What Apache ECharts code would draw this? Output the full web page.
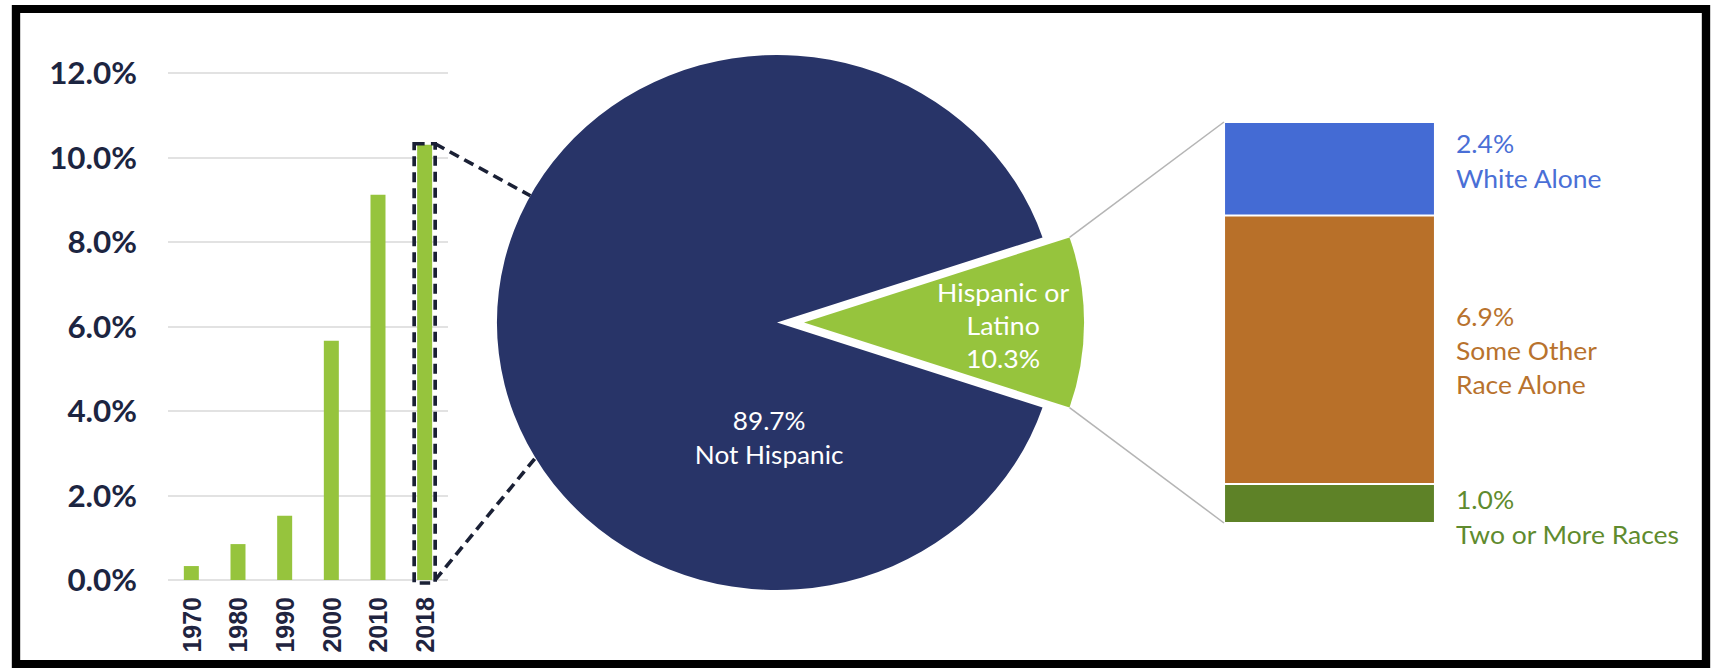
<!DOCTYPE html>
<html><head><meta charset="utf-8">
<script src="https://cdn.jsdelivr.net/npm/echarts@6/dist/echarts.min.js"></script>
<style>
html,body{margin:0;padding:0;background:#fff;overflow:hidden;width:1718px;height:668px}
#c{height:668px;transform-origin:0 0}
</style>
</head><body><div id="c"></div>
<script>
// ---- data ----
const years = ['1970', '1980', '1990', '2000', '2010', '2018'];
const hispanicShare = [0.33, 0.85, 1.52, 5.66, 9.12, 10.3];
const yAxisMax = 12;
const yAxisStep = 2;
const pieNames = ['Hispanic or Latino', 'Not Hispanic'];
const pieLabelLines = [['Hispanic or', 'Latino'], ['Not Hispanic']];
const pieValues = [10.3, 89.7];
const raceCategory = ['Hispanic or Latino'];
const raceNames = ['Two or More Races', 'Some Other Race Alone', 'White Alone'];
const raceLabelLines = [['Two or More Races'], ['Some Other', 'Race Alone'], ['White Alone']];
const raceValues = [1.0, 6.9, 2.4];

// ---- layout / styles (the source picture is stretched horizontally) ----
const S = 1.047;                       // horizontal stretch of the original graphic
const X = v => v / S;                  // page x -> chart x
const el = document.getElementById('c');
el.style.width = (1718 / S) + 'px';
el.style.transform = 'scaleX(' + S + ')';

const NAVY = '#283468', GREEN = '#96c43d';
const raceColors = ['#5e8227', '#b87029', '#446bd4'];
const raceTextColors = ['#5f8b2e', '#b8722d', '#4a6fd6'];
const raceOffsets = [[0, 13], [0, 0], [0, -8]];
const raceLineHeights = [35, 34, 35];
const PIE_C = [X(777), 322.5], PIE_R = 267.5, PIE_SHIFT = X(27);
const pieTotal = pieValues.reduce((a, b) => a + b, 0);
const stackTotal = raceValues.reduce((a, b) => a + b, 0);
const fmt = v => v.toFixed(1) + '%';
const BAR2_W = X(211);

const chart = echarts.init(el, null, {renderer: 'svg'});

const raceSeries = raceValues.map((v, i) => ({
  type: 'bar', name: raceNames[i], xAxisIndex: 1, yAxisIndex: 1, stack: 'race', silent: true,
  barWidth: '100%', data: [v],
  itemStyle: {color: raceColors[i], borderColor: '#ffffff', borderWidth: 1},
  label: {
    show: true, position: 'right', distance: X(21), offset: raceOffsets[i],
    formatter: () => [fmt(v)].concat(raceLabelLines[i]).join('\n'),
    color: raceTextColors[i], fontFamily: 'Lato', fontSize: 25.3, lineHeight: raceLineHeights[i], align: 'left'
  }
}));

const pieBase = {
  type: 'pie', radius: PIE_R, startAngle: pieValues[0] / pieTotal * 180, clockwise: true,
  silent: true, emphasis: {disabled: true}, labelLine: {show: false}
};

chart.setOption({
  animation: false,
  grid: [
    {left: X(168), top: 73, width: X(280), height: 507},
    {left: X(1224), top: 122, width: BAR2_W, height: 401}
  ],
  xAxis: [
    {type: 'category', gridIndex: 0, data: years,
     axisLine: {show: false}, axisTick: {show: false},
     axisLabel: {rotate: 90, margin: 17, color: '#1f2440', fontFamily: 'Liberation Sans', fontWeight: 'bold', fontSize: 25}},
    {type: 'category', gridIndex: 1, data: raceCategory, show: false}
  ],
  yAxis: [
    {type: 'value', gridIndex: 0, min: 0, max: yAxisMax, interval: yAxisStep,
     axisLine: {show: false}, axisTick: {show: false},
     splitLine: {lineStyle: {color: '#d9d9d9', width: 1.5}},
     axisLabel: {margin: X(31), color: '#1c2541', fontFamily: 'Lato', fontWeight: 'bold', fontSize: 30,
                 formatter: v => fmt(v)}},
    {type: 'value', gridIndex: 1, min: 0, max: stackTotal, show: false}
  ],
  series: [
    {type: 'bar', xAxisIndex: 0, yAxisIndex: 0, data: hispanicShare, barWidth: X(15), silent: true,
     itemStyle: {color: GREEN}},
    // Not Hispanic (at the pie centre)
    Object.assign({}, pieBase, {
      center: PIE_C,
      data: pieValues.map((v, i) => ({
        name: pieNames[i], value: v,
        itemStyle: {color: i === 1 ? NAVY : 'rgba(0,0,0,0)'},
        label: {show: i === 1}
      })),
      label: {
        position: 'inside', color: '#ffffff', fontFamily: 'Lato', fontSize: 25, lineHeight: 34,
        formatter: p => [fmt(p.value)].concat(pieLabelLines[1]).join('\n')
      },
      labelLayout: () => ({x: PIE_C[0] - 7.5, y: PIE_C[1] + 114.5, align: 'center', verticalAlign: 'middle'})
    }),
    // Hispanic or Latino (pulled out of the pie)
    Object.assign({}, pieBase, {
      center: [PIE_C[0] + PIE_SHIFT, PIE_C[1]],
      data: pieValues.map((v, i) => ({
        name: pieNames[i], value: v,
        itemStyle: {color: i === 0 ? GREEN : 'rgba(0,0,0,0)'},
        label: {show: i === 0}
      })),
      label: {
        position: 'inside', color: '#ffffff', fontFamily: 'Lato', fontSize: 25.5, lineHeight: 33,
        formatter: p => pieLabelLines[0].concat([fmt(p.value)]).join('\n')
      },
      labelLayout: () => ({x: PIE_C[0] + 216, y: PIE_C[1] + 2.5, align: 'center', verticalAlign: 'middle'})
    })
  ].concat(raceSeries)
});

// ---- connectors computed from the rendered scales/layout ----
const last = years.length - 1;
const topPt = chart.convertToPixel({xAxisIndex: 0, yAxisIndex: 0}, [years[last], hispanicShare[last]]);
const basePt = chart.convertToPixel({xAxisIndex: 0, yAxisIndex: 0}, [years[last], 0]);
const half = X(10.5);
const rect = {x: topPt[0] - half, y: topPt[1] - 1, width: half * 2, height: basePt[1] - topPt[1] + 4};

const LA = chart.getModel().getSeriesByIndex(1).getData().getItemLayout(1);
const LB = chart.getModel().getSeriesByIndex(2).getData().getItemLayout(0);
const c1 = [LB.cx + LB.r * Math.cos(LB.startAngle), LB.cy + LB.r * Math.sin(LB.startAngle)];
const c2 = [LB.cx + LB.r * Math.cos(LB.endAngle), LB.cy + LB.r * Math.sin(LB.endAngle)];
const upA = 208.3 * Math.PI / 180, loA = 149.6 * Math.PI / 180;
const pUp = [LA.cx + LA.r * Math.cos(upA), LA.cy + LA.r * Math.sin(upA)];
const pLo = [LA.cx + LA.r * Math.cos(loA), LA.cy + LA.r * Math.sin(loA)];

const bTop = chart.convertToPixel({xAxisIndex: 1, yAxisIndex: 1}, [raceCategory[0], stackTotal]);
const bBot = chart.convertToPixel({xAxisIndex: 1, yAxisIndex: 1}, [raceCategory[0], 0]);
const bLeft = bTop[0] - BAR2_W / 2;

const dash = {stroke: '#1a2035', lineWidth: 3.5, lineDash: [10, 6], fill: null};
chart.setOption({
  graphic: [
    {type: 'rect', shape: rect, style: dash, z: 10, silent: true},
    {type: 'line', shape: {x1: rect.x + rect.width, y1: rect.y, x2: pUp[0], y2: pUp[1]}, style: dash, z: 10, silent: true},
    {type: 'line', shape: {x1: rect.x + rect.width, y1: rect.y + rect.height - 3, x2: pLo[0], y2: pLo[1]}, style: dash, z: 10, silent: true},
    {type: 'line', shape: {x1: c1[0], y1: c1[1], x2: bLeft, y2: bTop[1]}, style: {stroke: '#b5b5b5', lineWidth: 1.5}, z: 10, silent: true},
    {type: 'line', shape: {x1: c2[0], y1: c2[1], x2: bLeft, y2: bBot[1]}, style: {stroke: '#b5b5b5', lineWidth: 1.5}, z: 10, silent: true},
    {type: 'rect', shape: {x: X(16), y: 9, width: X(1690), height: 655}, style: {fill: null, stroke: '#000', lineWidth: 8}, z: 20, silent: true}
  ]
});
</script></body></html>
